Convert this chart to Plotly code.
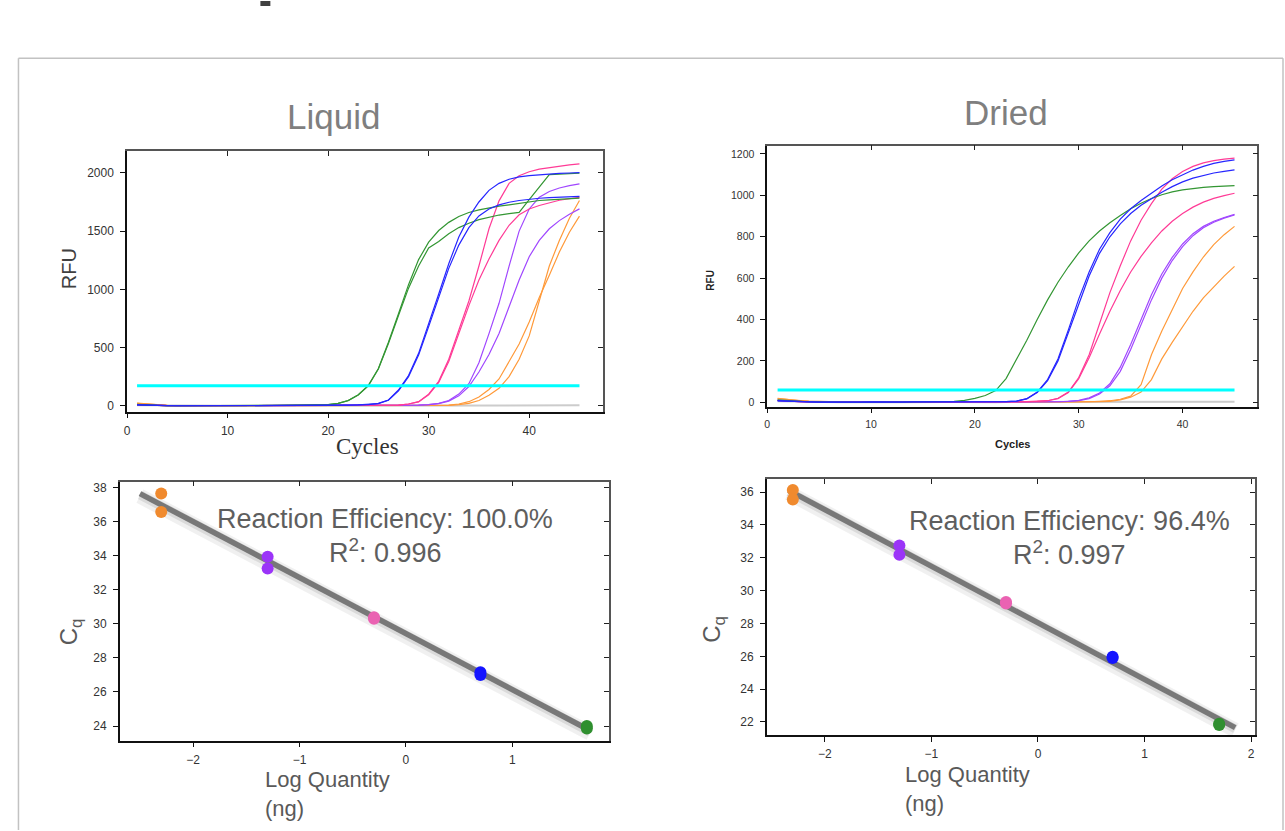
import plotly.graph_objects as go
import numpy as np

W, H = 1285, 831

# ---------------- data ----------------
cycles = list(range(1, 46))
threshold_cycles = [1, 45]
liq_threshold = 171
dry_threshold = 60

# Liquid amplification curves (RFU, cycles 1..45)
liq_ntc = [4,3,2,2,1,1,1,0,1,1,0,1,1,0,1,1,1,0,1,1,1,1,0,1,1,1,2,1,2,2,2,1,2,3,2,3,3,2,3,3,4,3,3,4,4]
liq_green_1 = [12,6,3,2,1,0,0,0,0,0,0,0,0,1,1,2,3,5,7,
               10,20,45,95,175,320,545,790,1040,1255,1405,1505,1575,1625,1660,1683,1700,1714,1726,1740,
               1754,1763,1769,1774,1778,1783]
liq_green_2 = [10,5,3,1,0,0,0,0,0,0,0,0,1,1,2,2,3,5,7,
               10,20,44,92,170,315,535,775,1010,1200,1355,1410,1478,1530,1568,1598,1620,1638,1650,1660,
               1770,1880,1985,1990,1995,1998]
liq_blue_1 = [8,4,2,1,0,0,0,0,0,0,0,0,0,0,0,0,1,1,2,
              3,4,5,7,10,20,50,135,260,450,700,960,1220,1450,1620,1750,1850,1910,1945,1965,
              1977,1985,1990,1995,1999,2003]
liq_blue_2 = [7,4,2,1,0,0,0,0,0,0,0,0,0,0,0,0,1,1,2,
              3,4,5,7,10,19,47,128,250,435,680,930,1180,1380,1530,1630,1690,1725,1748,1763,
              1774,1782,1788,1792,1795,1798]
liq_pink_1 = [10,5,2,1,0,0,0,0,0,0,0,0,0,0,0,0,0,0,0,1,1,1,1,2,2,
              3,6,15,35,100,210,400,650,900,1200,1520,1760,1910,1975,2010,2032,2045,2058,2068,2077]
liq_pink_2 = [9,5,2,1,0,0,0,0,0,0,0,0,0,0,0,0,0,0,0,1,1,1,1,2,2,
              3,6,15,33,95,200,380,620,860,1080,1260,1420,1550,1640,1690,1720,1745,1765,1778,1790]
liq_purple_1 = [9,5,2,1,0,0,0,0,0,0,0,0,0,0,0,0,0,0,0,0,1,1,1,1,1,2,2,
                3,5,10,20,45,100,190,370,620,880,1200,1500,1690,1790,1840,1870,1890,1906]
liq_purple_2 = [8,4,2,1,0,0,0,0,0,0,0,0,0,0,0,0,0,0,0,0,1,1,1,1,1,2,2,
                3,5,10,18,40,85,165,290,440,620,850,1080,1280,1420,1520,1590,1645,1691]
liq_orange_1 = [22,14,8,4,2,1,0,0,0,0,0,0,0,0,0,0,0,0,0,0,1,1,1,1,1,1,1,2,2,2,
                3,5,15,35,75,140,230,380,530,720,930,1120,1320,1490,1629]
liq_orange_2 = [20,13,7,4,2,1,0,0,0,0,0,0,0,0,0,0,0,0,0,0,1,1,1,1,1,1,1,1,2,2,
                2,4,10,20,45,90,150,250,400,600,900,1200,1420,1610,1763]

# Dried amplification curves (RFU, cycles 1..45)
dry_ntc = [5,4,3,2,2,1,1,2,1,1,2,1,1,2,2,1,2,2,1,2,2,1,2,2,1,2,2,3,2,2,3,3,2,3,2,1,1,2,3,4,3,2,3,4,3]
dry_green = [12,8,5,3,2,1,1,0,0,1,0,0,1,2,2,3,4,
             5,10,19,33,57,115,204,300,400,495,580,655,722,780,828,868,903,935,962,985,
             1003,1017,1026,1033,1038,1042,1045,1047]
dry_blue_1 = [8,5,3,2,1,1,0,0,1,2,1,0,1,2,1,1,2,2,2,
              2,3,3,4,6,18,50,110,210,350,500,630,740,820,885,935,975,1010,1045,1075,
              1100,1122,1140,1154,1164,1171]
dry_blue_2 = [7,5,3,2,1,1,0,0,1,2,1,0,1,2,1,1,2,2,2,
              2,3,3,4,6,17,48,105,200,335,480,610,720,800,862,912,952,985,1015,1042,
              1065,1083,1097,1108,1116,1123]
dry_pink_1 = [10,6,4,2,1,1,0,1,1,2,1,0,1,1,1,2,1,1,2,2,2,3,3,3,4,5,
              8,20,50,120,230,380,530,660,780,880,960,1030,1080,1115,1140,1157,1168,1175,1180]
dry_pink_2 = [9,6,4,2,1,1,0,1,1,2,1,0,1,1,1,2,1,1,2,2,2,3,3,3,4,5,
              8,18,48,115,215,330,440,540,630,705,770,828,875,912,943,967,985,999,1010]
dry_purple_1 = [11,7,4,3,2,1,1,2,2,3,2,1,1,2,2,1,1,2,2,2,1,2,2,2,2,2,3,
                3,5,10,22,45,90,170,280,400,520,620,700,765,815,850,875,893,908]
dry_purple_2 = [10,7,4,3,2,1,1,2,2,3,2,1,1,2,2,1,1,2,2,2,1,2,2,2,2,2,3,
                3,5,8,18,40,80,150,255,375,495,600,685,752,805,843,870,890,905]
dry_orange_1 = [20,14,9,6,4,3,2,2,1,1,1,0,0,1,1,0,0,1,1,0,1,1,0,1,1,1,1,2,2,2,
                3,5,8,15,30,85,230,345,450,550,630,702,762,810,850]
dry_orange_2 = [18,13,8,5,4,3,2,2,1,1,1,0,0,1,1,0,0,1,1,0,1,1,0,1,1,1,1,1,2,2,
                2,4,5,12,25,50,110,210,290,365,440,505,560,610,657]

# Standard curves
log_qty = [-2.3, -2.3, -1.3, -1.3, -0.3, -0.3, 0.7, 0.7, 1.7, 1.7]
liq_cq = [37.64, 36.56, 33.93, 33.25, 30.39, 30.30, 27.15, 27.00, 24.00, 23.85]
dry_cq = [36.12, 35.55, 32.74, 32.18, 29.30, 29.22, 25.98, 25.90, 21.90, 21.82]
liq_fit_x = [-2.5, 1.73]
dry_fit_x = [-2.34, 1.85]
liq_eff_text = "Reaction Efficiency: 100.0%"
liq_r2_text = "R<sup>2</sup>: 0.996"
dry_eff_text = "Reaction Efficiency: 96.4%"
dry_r2_text = "R<sup>2</sup>: 0.997"

# ---------------- styles ----------------
C_GREEN = "#339633"
C_BLUE = "#2626ff"
C_PINK = "#ff3b96"
C_PURPLE = "#a047ff"
C_ORANGE = "#ff9a3a"
C_NTC = "#cccccc"
C_CYAN = "#00ffff"
DOT_COLORS = ["#f08a2e", "#f08a2e", "#9b34f8", "#9b34f8", "#ea62b2", "#ea62b2",
              "#1414ff", "#1414ff", "#2f8f2f", "#2f8f2f"]
SANS = "Liberation Sans, Arial, sans-serif"
SERIF = "Liberation Serif, Times New Roman, serif"

fig = go.Figure()

def add_curves(ax, series, thr):
    xa, ya = "x%d" % ax, "y%d" % ax
    for ys, col, w in series:
        fig.add_trace(go.Scatter(x=cycles, y=ys, mode="lines", xaxis=xa, yaxis=ya,
                                 line=dict(color=col, width=w), hoverinfo="skip"))
    fig.add_trace(go.Scatter(x=threshold_cycles, y=[thr, thr], mode="lines", xaxis=xa, yaxis=ya,
                             line=dict(color=C_CYAN, width=3), hoverinfo="skip"))

add_curves(1, [(liq_ntc, C_NTC, 2), (liq_orange_1, C_ORANGE, 1.2), (liq_orange_2, C_ORANGE, 1.2),
               (liq_purple_1, C_PURPLE, 1.2), (liq_purple_2, C_PURPLE, 1.2),
               (liq_pink_1, C_PINK, 1.2), (liq_pink_2, C_PINK, 1.2),
               (liq_green_1, C_GREEN, 1.2), (liq_green_2, C_GREEN, 1.2),
               (liq_blue_1, C_BLUE, 1.2), (liq_blue_2, C_BLUE, 1.2)], liq_threshold)
add_curves(2, [(dry_ntc, C_NTC, 2), (dry_orange_1, C_ORANGE, 1.2), (dry_orange_2, C_ORANGE, 1.2),
               (dry_purple_1, C_PURPLE, 1.2), (dry_purple_2, C_PURPLE, 1.2),
               (dry_pink_1, C_PINK, 1.2), (dry_pink_2, C_PINK, 1.2),
               (dry_green, C_GREEN, 1.2),
               (dry_blue_1, C_BLUE, 1.2), (dry_blue_2, C_BLUE, 1.2)], dry_threshold)

def add_std(ax, cq, fit_x):
    xa, ya = "x%d" % ax, "y%d" % ax
    slope, icpt = np.polyfit(log_qty, cq, 1)
    fx = np.array(fit_x)
    fy = slope * fx + icpt
    fig.add_trace(go.Scatter(x=fx, y=fy - 0.15, mode="lines", xaxis=xa, yaxis=ya,
                             line=dict(color="rgba(0,0,0,0.06)", width=15), hoverinfo="skip"))
    fig.add_trace(go.Scatter(x=fx, y=fy - 0.08, mode="lines", xaxis=xa, yaxis=ya,
                             line=dict(color="rgba(0,0,0,0.09)", width=9), hoverinfo="skip"))
    fig.add_trace(go.Scatter(x=fx, y=fy, mode="lines", xaxis=xa, yaxis=ya,
                             line=dict(color="#787878", width=5.5), hoverinfo="skip"))
    fig.add_trace(go.Scatter(x=log_qty, y=cq, mode="markers", xaxis=xa, yaxis=ya,
                             marker=dict(color=DOT_COLORS, size=12, line=dict(width=0)),
                             hoverinfo="skip"))

add_std(3, liq_cq, liq_fit_x)
add_std(4, dry_cq, dry_fit_x)

# invisible traces so the mirror axes are drawn
for i in range(5, 9):
    fig.add_trace(go.Scatter(x=[None], y=[None], xaxis="x%d" % i, yaxis="y%d" % i,
                             mode="lines", hoverinfo="skip"))

# ---------------- axes ----------------
panels = {
    1: dict(px=(124.3, 601.0), py=(150.7, 411.7), xr=[0, 47.3], yr=[-51, 2185],
            xt=[0, 10, 20, 30, 40], yt=[0, 500, 1000, 1500, 2000], fs=12),
    2: dict(px=(766.0, 1257.3), py=(145.0, 406.7), xr=[0, 47.2], yr=[-21, 1240],
            xt=[0, 10, 20, 30, 40], yt=[0, 200, 400, 600, 800, 1000, 1200], fs=10.5),
    3: dict(px=(117.0, 607.6), py=(481.8, 741.3), xr=[-2.69, 1.91], yr=[23.15, 38.34],
            xt=[-2, -1, 0, 1], yt=[24, 26, 28, 30, 32, 34, 36, 38], fs=12),
    4: dict(px=(765.5, 1254.6), py=(479.1, 735.9), xr=[-2.545, 2.033], yr=[21.2, 36.8],
            xt=[-2, -1, 0, 1, 2], yt=[22, 24, 26, 28, 30, 32, 34, 36], fs=12),
}

layout_axes = {}
for i, p in panels.items():
    xd = [p["px"][0] / W, p["px"][1] / W]
    yd = [1 - p["py"][1] / H, 1 - p["py"][0] / H]
    tf = dict(family=SANS, size=p["fs"], color="#333333")
    common = dict(showgrid=False, zeroline=False, showline=True, linewidth=1.5,
                  tickwidth=1, ticklen=5, fixedrange=True)
    layout_axes["xaxis%d" % i] = dict(domain=xd, anchor="y%d" % i, range=p["xr"], tickvals=p["xt"],
                                      ticks="outside", linecolor="#111111", tickcolor="#111111",
                                      tickfont=tf, ticklabelstandoff=2, **common)
    layout_axes["yaxis%d" % i] = dict(domain=yd, anchor="x%d" % i, range=p["yr"], tickvals=p["yt"],
                                      ticks="outside", linecolor="#111111", tickcolor="#111111",
                                      tickfont=tf, ticklabelstandoff=4, **common)
    j = i + 4
    layout_axes["xaxis%d" % j] = dict(domain=xd, anchor="y%d" % j, overlaying="x%d" % i, side="top",
                                      range=p["xr"], tickvals=p["xt"], ticks="inside",
                                      showticklabels=False, linecolor="#555555", tickcolor="#222222",
                                      **common)
    layout_axes["yaxis%d" % j] = dict(domain=yd, anchor="x%d" % j, overlaying="y%d" % i, side="right",
                                      range=p["yr"], tickvals=p["yt"], ticks="inside",
                                      showticklabels=False, linecolor="#555555", tickcolor="#222222",
                                      **common)

# ---------------- annotations ----------------
def ann(text, x, y, size, color, family=SANS, angle=0, xanchor="center", align="center"):
    return dict(text=text, x=x / W, y=1 - y / H, xref="paper", yref="paper", showarrow=False,
                font=dict(family=family, size=size, color=color), textangle=angle,
                xanchor=xanchor, yanchor="middle", align=align, borderpad=0)

annotations = [
    ann("Liquid", 331, 116, 35, "#7f7f7f"),
    ann("Dried", 1005, 112, 35, "#7f7f7f"),
    ann("RFU", 67, 268, 20, "#404040", angle=-90),
    ann("Cycles", 365, 447, 23, "#333333", family=SERIF),
    ann("<b>RFU</b>", 709, 280, 10, "#222222", angle=-90),
    ann("<b>Cycles</b>", 1012, 444, 11, "#222222"),
    ann("C<sub>q</sub>", 68, 632, 24, "#595959", angle=-90),
    ann("C<sub>q</sub>", 712, 630, 24, "#595959", angle=-90),
    ann("Log Quantity<br>(ng)", 262, 795, 22, "#595959", xanchor="left", align="left"),
    ann("Log Quantity<br>(ng)", 903, 790, 22, "#595959", xanchor="left", align="left"),
    ann(liq_eff_text, 383, 519, 27, "#5e5e5e"),
    ann(liq_r2_text, 383, 551, 27, "#5e5e5e"),
    ann(dry_eff_text, 1069, 521, 27, "#5e5e5e"),
    ann(dry_r2_text, 1069, 553, 27, "#5e5e5e"),
]

def pline(x0, y0, x1, y1, color, width):
    return dict(type="line", xref="paper", yref="paper", x0=x0 / W, y0=1 - y0 / H,
                x1=x1 / W, y1=1 - y1 / H, line=dict(color=color, width=width))

shapes = [
    pline(15.5, 57.5, 1283, 57.5, "#c2c2c2", 1.5),
    pline(15.5, 57.5, 15.5, 831, "#c2c2c2", 1.5),
    pline(1283, 57.5, 1283, 831, "#c2c2c2", 1.5),
    dict(type="rect", xref="paper", yref="paper", x0=258 / W, x1=268 / W, y0=1 - 5 / H, y1=1,
         fillcolor="#404040", line=dict(width=0)),
]

fig.update_layout(width=W, height=H, margin=dict(l=0, r=0, t=0, b=0),
                  paper_bgcolor="white", plot_bgcolor="white", showlegend=False,
                  annotations=annotations, shapes=shapes, **layout_axes)

fig.write_html("out.html")
